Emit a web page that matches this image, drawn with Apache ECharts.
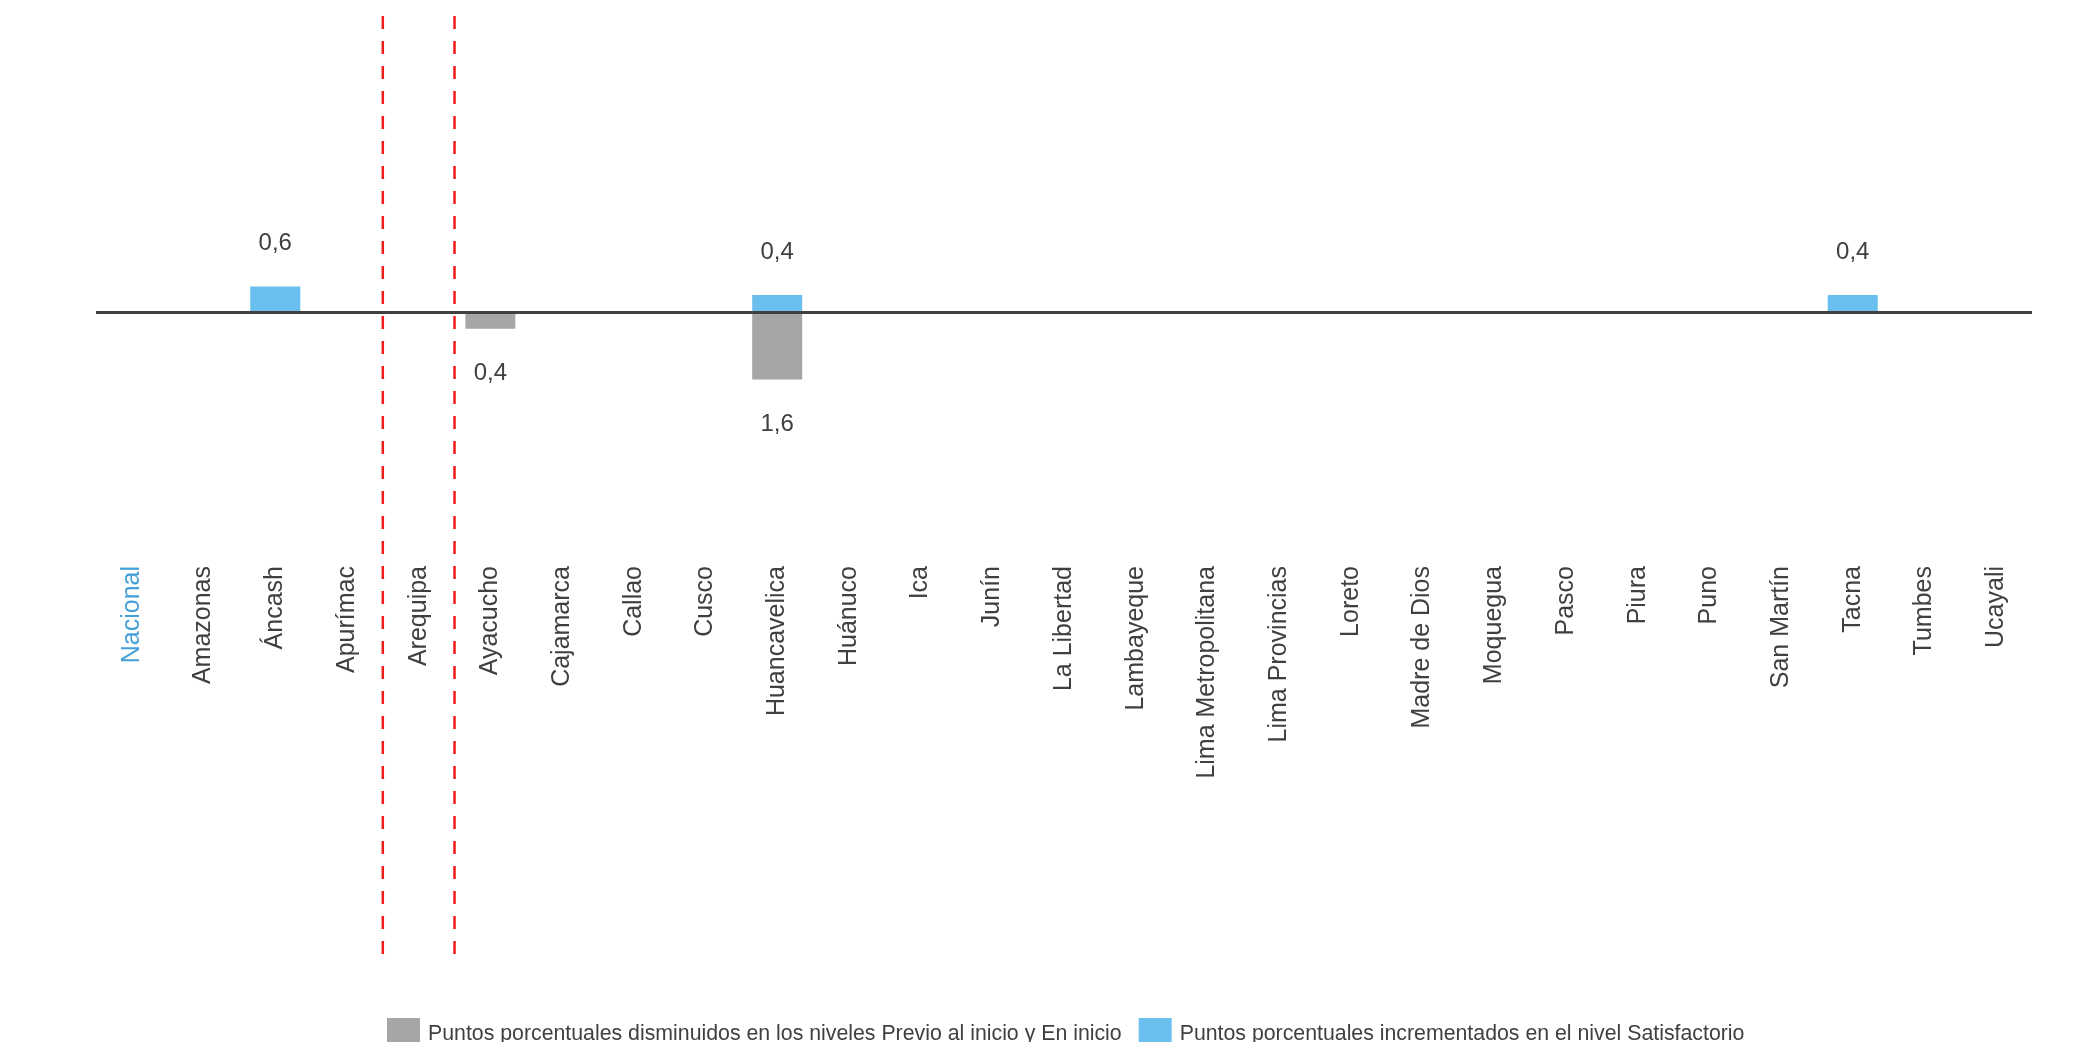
<!DOCTYPE html>
<html>
<head>
<meta charset="utf-8">
<script src="https://cdn.jsdelivr.net/npm/echarts@6/dist/echarts.min.js"></script>
<style>
  html, body { margin: 0; padding: 0; background: #fff; }
  #myChart { width: 2089px; height: 1042px; }
</style>
</head>
<body>
<div id="myChart"></div>
<script>
// regiones (eje de categorías)
const categories = ['Nacional', 'Amazonas', 'Áncash', 'Apurímac', 'Arequipa', 'Ayacucho', 'Cajamarca', 'Callao',
  'Cusco', 'Huancavelica', 'Huánuco', 'Ica', 'Junín', 'La Libertad', 'Lambayeque', 'Lima Metropolitana',
  'Lima Provincias', 'Loreto', 'Madre de Dios', 'Moquegua', 'Pasco', 'Piura', 'Puno', 'San Martín', 'Tacna',
  'Tumbes', 'Ucayali'];

// puntos porcentuales disminuidos (se dibujan hacia abajo)
const decreased = [0, 0, 0, 0, 0, -0.4, 0, 0, 0, -1.6, 0, 0, 0, 0, 0, 0, 0, 0, 0, 0, 0, 0, 0, 0, 0, 0, 0];
// puntos porcentuales incrementados en Satisfactorio
const increased = [0, 0, 0.6, 0, 0, 0, 0, 0, 0, 0.4, 0, 0, 0, 0, 0, 0, 0, 0, 0, 0, 0, 0, 0, 0, 0.4, 0, 0];

// líneas rojas punteadas: a la izquierda de estas categorías
const dividerCats = ['Arequipa', 'Ayacucho'];

const seriesNames = [
  'Puntos porcentuales disminuidos en los niveles Previo al inicio y En inicio',
  'Puntos porcentuales incrementados en el nivel Satisfactorio'
];

const fmt = function (p) {
  if (!p.value) return '';
  return Math.abs(p.value).toFixed(1).replace('.', ',');
};

let myChart = echarts.init(document.getElementById('myChart'));
myChart.setOption({
  animation: false,
  textStyle: { fontFamily: 'Liberation Sans, Arial, sans-serif' },
  legend: {
    data: seriesNames,
    left: 382,
    top: 1013,
    itemWidth: 33,
    itemHeight: 33,
    itemGap: 17,
    icon: 'rect',
    textStyle: { fontSize: 21.3, color: '#404040', padding: [0, 0, 0, 3] }
  },
  grid: {
    left: 96,
    right: 57,
    top: 16,
    bottom: 79,
    containLabel: false
  },
  xAxis: {
    type: 'category',
    data: categories,
    axisLine: { show: false, onZero: false },
    axisTick: { show: false },
    axisLabel: {
      interval: 0,
      rotate: 90,
      margin: -397, // las etiquetas quedan dentro del área, bajo la línea cero
      fontSize: 25,
      color: function (value) {
        return value === 'Nacional' ? '#45a0d8' : '#404040';
      }
    },
    splitLine: { show: false }
  },
  yAxis: {
    type: 'value',
    min: -15.4,
    max: 7,
    axisLine: { show: false },
    axisTick: { show: false },
    axisLabel: { show: false },
    splitLine: { show: false }
  },
  series: [
    {
      name: seriesNames[0],
      type: 'bar',
      barWidth: 50,
      barGap: '-100%',
      itemStyle: { color: '#a6a6a6' },
      label: { show: true, position: 'bottom', distance: 33, fontSize: 24, color: '#404040', formatter: fmt },
      // línea del cero
      markLine: {
        symbol: 'none',
        silent: true,
        label: { show: false },
        lineStyle: { color: '#404040', width: 3, type: 'solid' },
        data: [{ yAxis: 0 }]
      },
      data: decreased
    },
    {
      name: seriesNames[1],
      type: 'bar',
      barWidth: 50,
      barGap: '-100%',
      itemStyle: { color: '#6bbfef' },
      label: { show: true, position: 'top', distance: 31, fontSize: 24, color: '#404040', formatter: fmt },
      data: increased
    },
    {
      // líneas divisorias en el borde izquierdo de cada categoría indicada
      type: 'custom',
      silent: true,
      data: dividerCats.map(function (c) { return [categories.indexOf(c), 0]; }),
      renderItem: function (params, api) {
        const cs = params.coordSys;
        const x = api.coord([api.value(0), 0])[0] - api.size([1, 0])[0] / 2;
        return {
          type: 'line',
          shape: { x1: x, y1: cs.y, x2: x, y2: cs.y + cs.height },
          style: { stroke: '#f01c1c', lineWidth: 2.5, lineDash: [13, 12] }
        };
      }
    }
  ]
});

window.onresize = function () {
  myChart.resize();
};
</script>
</body>
</html>
